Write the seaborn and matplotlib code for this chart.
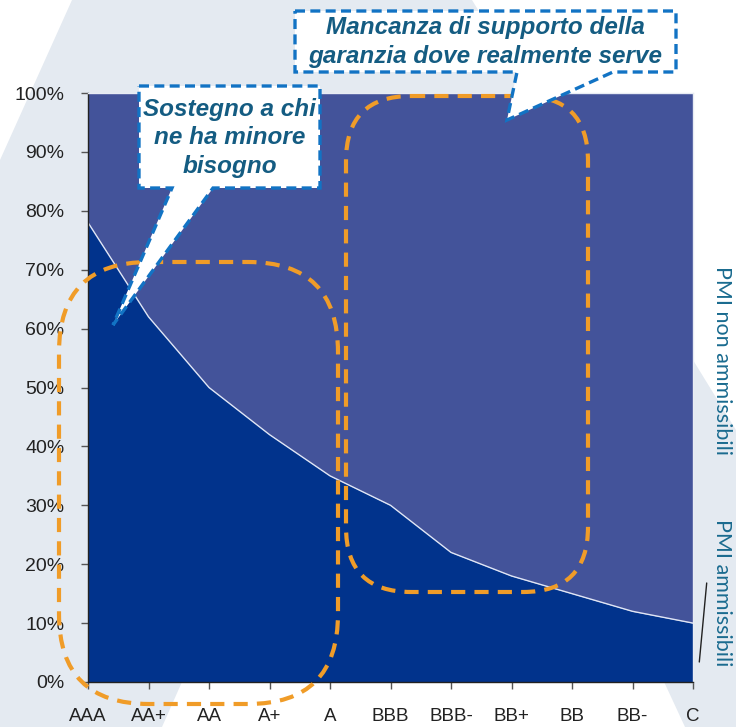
import numpy as np
import pandas as pd
import matplotlib.pyplot as plt
import matplotlib.patches as mpatches
from matplotlib.ticker import PercentFormatter
import seaborn as sns

# data (share of SMEs, %)
ratings = ['AAA', 'AA+', 'AA', 'A+', 'A', 'BBB', 'BBB-', 'BB+', 'BB', 'BB-', 'C']
pmi_ammissibili = [78, 62, 50, 42, 35, 30, 22, 18, 15, 12, 10]
pmi_non_ammissibili = [100 - v for v in pmi_ammissibili]
y_ticks = [0, 10, 20, 30, 40, 50, 60, 70, 80, 90, 100]

df = pd.DataFrame({'rating': ratings,
                   'pos': np.arange(len(ratings)),
                   'amm': np.array(pmi_ammissibili) / 100,
                   'non': np.array(pmi_non_ammissibili) / 100})

sns.set_style('white')
plt.rcParams['font.family'] = ['Liberation Sans', 'DejaVu Sans']

dark_blue = '#01338c'
light_blue = '#43539a'
orange = '#f09c28'
callout_blue = '#1273c4'
text_blue = '#145c82'

fig = plt.figure(figsize=(7.36, 7.27), dpi=100)

# background shapes, in pixel units
bg = fig.add_axes([0, 0, 1, 1], zorder=0)
bg.set_xlim(0, 736)
bg.set_ylim(727, 0)
bg.axis('off')
bg.add_patch(mpatches.Rectangle((0, 0), 736, 727, color='#e4eaf1', lw=0))
bg.add_patch(mpatches.Polygon([(0, 0), (72, 0), (0, 160)], color='white', lw=0))
bg.add_patch(mpatches.Polygon([(472, 0), (736, 0), (736, 430)], color='white', lw=0))
bg.add_patch(mpatches.Polygon([(162, 727), (685, 727), (640, 630), (205, 630)], color='white', lw=0))

# main chart: 100% stacked area
ax = fig.add_axes([88 / 736, 45 / 727, 605 / 736, 589 / 727], zorder=1)
ax.fill_between(df['pos'], 0, df['amm'], color=dark_blue, lw=0)
ax.fill_between(df['pos'], df['amm'], df['amm'] + df['non'], color=light_blue, lw=0)
sns.lineplot(data=df, x='pos', y='amm', ax=ax, color='#dfe5f5', lw=1)

ax.set_xlim(0, len(ratings) - 1)
ax.set_ylim(0, 1)
ax.set_xticks(df['pos'])
ax.set_xticklabels(ratings)
ax.set_yticks([t / 100 for t in y_ticks])
ax.yaxis.set_major_formatter(PercentFormatter(1.0, decimals=0))
ax.set_xlabel('')
ax.set_ylabel('')
for s in ['top', 'right']:
    ax.spines[s].set_color('#e8ecf4')
    ax.spines[s].set_linewidth(1)
for s in ['left', 'bottom']:
    ax.spines[s].set_color('#222222')
    ax.spines[s].set_linewidth(1)
ax.tick_params(axis='both', bottom=True, left=True, direction='out', length=5,
               width=1, color='#555555', labelcolor='#222222')
ax.tick_params(axis='y', pad=12, labelsize=14)
ax.tick_params(axis='x', pad=14, labelsize=13.5)

# overlay: highlight boxes and callouts
ov = fig.add_axes([0, 0, 1, 1], zorder=3)
ov.set_xlim(0, 736)
ov.set_ylim(727, 0)
ov.axis('off')
ov.patch.set_alpha(0)

dash = (0, (3.4, 2.2))
ov.add_patch(mpatches.FancyBboxPatch((59, 262), 279, 442,
                                     boxstyle='round,pad=0,rounding_size=90',
                                     fill=False, ec=orange, lw=3, ls=dash))
ov.add_patch(mpatches.FancyBboxPatch((346, 96), 242, 496,
                                     boxstyle='round,pad=0,rounding_size=65',
                                     fill=False, ec=orange, lw=3, ls=dash))

callout1 = [(139, 86), (320, 86), (320, 188), (213, 188), (113, 325), (172, 188), (139, 188)]
callout2 = [(295, 11), (676, 11), (676, 72), (613, 72), (507, 120), (517, 72), (295, 72)]
for pts in [callout1, callout2]:
    ov.add_patch(mpatches.Polygon(pts, closed=True, fc='white', ec=callout_blue,
                                  lw=2.4, ls=(0, (3, 1.6)), zorder=4))

ov.text(229.5, 138, 'Sostegno a chi\nne ha minore\nbisogno', ha='center', va='center',
        fontsize=17.5, fontweight='bold', fontstyle='italic', color=text_blue,
        linespacing=1.32, zorder=5)
ov.text(485, 42, 'Mancanza di supporto della\ngaranzia dove realmente serve',
        ha='center', va='center', fontsize=17.5, fontweight='bold', fontstyle='italic',
        color=text_blue, linespacing=1.35, zorder=5)

ov.text(722, 360, 'PMI non ammissibili', rotation=270, ha='center', va='center',
        family=['Lato', 'DejaVu Sans'], fontsize=15.5, color='#1a6b8f')
ov.text(722, 593, 'PMI ammissibili', rotation=270, ha='center', va='center',
        family=['Lato', 'DejaVu Sans'], fontsize=15.5, color='#1a6b8f')
ov.plot([706.7, 699.3], [583, 662], color='#222222', lw=1)

fig.savefig('out.png', dpi=100)
